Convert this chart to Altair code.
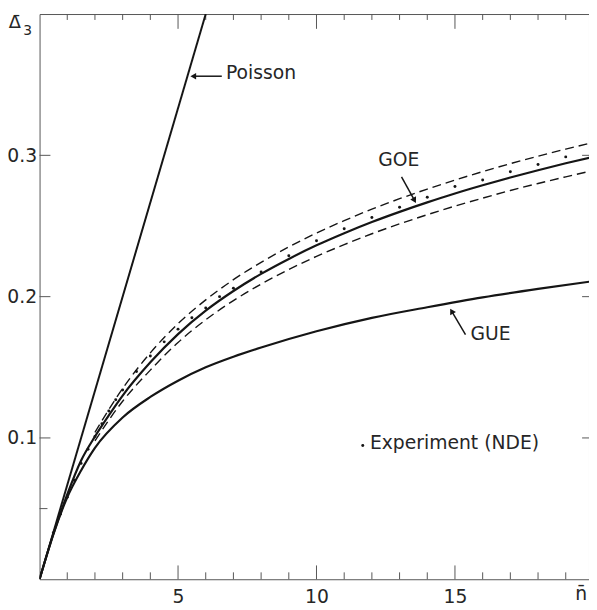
import altair as alt
import pandas as pd

FONT = "DejaVu Sans"
INK = "#151515"
TXT = "#262626"
AX = "#555555"

# ---------------- data ----------------
poisson_n = [0, 6.0]
poisson_d = [0, 0.4]

goe_n = [0, 0.5, 1, 1.5, 2, 2.5, 3, 4, 5, 6, 7, 8, 9, 10, 11, 12, 13, 14, 15, 16, 17, 18, 19, 20]
goe_d = [0, 0.032, 0.060, 0.084, 0.101, 0.116, 0.130, 0.1535, 0.1735, 0.1901, 0.2040, 0.2161,
         0.2267, 0.2363, 0.2449, 0.2528, 0.2600, 0.2667, 0.2730, 0.2788, 0.2843, 0.2895,
         0.2944, 0.2990]

goe_hi_n = [2, 3, 4, 5, 6, 7, 8, 9, 10, 11, 12, 13, 14, 15, 16, 17, 18, 19, 20]
goe_hi_d = [0.104, 0.135, 0.1602, 0.1809, 0.1977, 0.2120, 0.2243, 0.2352, 0.2450, 0.2538,
            0.2619, 0.2693, 0.2761, 0.2825, 0.2885, 0.2941, 0.2994, 0.3044, 0.3091]

goe_lo_n = [2, 3, 4, 5, 6, 7, 8, 9, 10, 11, 12, 13, 14, 15, 16, 17, 18, 19, 20]
goe_lo_d = [0.098, 0.126, 0.1480, 0.1676, 0.1836, 0.1972, 0.2089, 0.2192, 0.2285, 0.2368,
            0.2445, 0.2515, 0.2580, 0.2641, 0.2697, 0.2751, 0.2801, 0.2848, 0.2893]

gue_n = [0, 0.5, 1, 1.5, 2, 3, 4, 5, 6, 7, 8, 10, 12, 14, 16, 18, 20]
gue_d = [0, 0.032, 0.058, 0.077, 0.093, 0.1145, 0.129, 0.1405, 0.150, 0.1575, 0.164, 0.1755,
         0.185, 0.1925, 0.1995, 0.2055, 0.211]

exp_n = [0.5, 0.75, 1.0, 1.25, 1.5, 1.75, 2.0, 2.25, 2.5, 2.75, 3.0, 3.5, 4, 4.5, 5, 5.5, 6,
         6.5, 7, 8, 9, 10, 11, 12, 13, 14, 15, 16, 17, 18, 19]
exp_d = [0.033, 0.046, 0.058, 0.070, 0.082, 0.092, 0.101, 0.110, 0.119, 0.127, 0.134, 0.147,
         0.158, 0.168, 0.177, 0.185, 0.192, 0.200, 0.206, 0.2175, 0.229, 0.2395, 0.248,
         0.256, 0.2633, 0.2703, 0.278, 0.2826, 0.2884, 0.2935, 0.2989]

x_tick_labels = [5, 10, 15]
y_tick_labels = [0.1, 0.2, 0.3]
x_major_ticks = [5, 10, 15]
x_minor_ticks = [1, 2, 3, 4, 6, 7, 8, 9, 11, 12, 13, 14, 16, 17, 18, 19]
y_major_ticks = [0.1, 0.2, 0.3]
y_minor_ticks = [0.05]
y_right_ticks = [0.1, 0.2, 0.3]

# annotations (data coordinates)
labels_text = ["Poisson", "GOE", "GUE", "Experiment (NDE)"]
labels_n = [6.73, 12.97, 15.56, 11.93]
labels_d = [0.358, 0.2963, 0.1738, 0.0963]
labels_align = ["left", "center", "left", "left"]

arrow_n = [6.58, 13.07, 15.38]
arrow_d = [0.356, 0.2848, 0.1731]
arrow_n2 = [5.55, 13.54, 14.88]
arrow_d2 = [0.356, 0.2681, 0.1897]
arrow_angle = [270, 151, 330]

legend_dot_n = [11.67]
legend_dot_d = [0.0947]

# ---------------- chart ----------------
W, H = 557, 573
xs = alt.Scale(domain=[0, 19.84], nice=False, zero=False)
ys = alt.Scale(domain=[0, 0.4], nice=False, zero=False)

x_axis = alt.Axis(values=x_tick_labels, format="d", domain=False, ticks=False, grid=False,
                  labelFont=FONT, labelFontSize=19, labelColor=TXT, labelPadding=9,
                  labelFlush=False, title=None)
y_axis = alt.Axis(values=y_tick_labels, format=".1f", domain=False, ticks=False, grid=False,
                  labelFont=FONT, labelFontSize=19, labelColor=TXT, labelPadding=3,
                  title=None)

X = alt.X("n:Q", scale=xs, axis=x_axis)
Y = alt.Y("d:Q", scale=ys, axis=y_axis)


def df(n, d):
    return pd.DataFrame({"n": n, "d": d})


def curve(n, d, width=2.0, dash=None):
    kw = dict(color=INK, strokeWidth=width, interpolate="monotone", clip=True)
    if dash:
        kw["strokeDash"] = dash
    return alt.Chart(df(n, d)).mark_line(**kw).encode(x=X, y=Y)


def xticks(vals, length, top):
    d = pd.DataFrame({"n": vals})
    if top:
        enc = dict(y=alt.value(0), y2=alt.value(length))
    else:
        enc = dict(y=alt.value(H), y2=alt.value(H - length))
    return alt.Chart(d).mark_rule(color=AX, strokeWidth=1).encode(x=X, **enc)


def yticks(vals, length, right):
    d = pd.DataFrame({"d": vals})
    if right:
        enc = dict(x=alt.value(W - length), x2=alt.value(W))
    else:
        enc = dict(x=alt.value(0), x2=alt.value(length))
    return alt.Chart(d).mark_rule(color=AX, strokeWidth=1).encode(y=Y, **enc)


layers = [
    xticks(x_major_ticks, 14, False),
    xticks(x_minor_ticks, 7, False),
    xticks(x_major_ticks, 15, True),
    xticks(x_minor_ticks, 6, True),
    yticks(y_major_ticks, 11, False),
    yticks(y_minor_ticks, 8, False),
    yticks(y_right_ticks, 7, True),
    curve(poisson_n, poisson_d, 2.0),
    curve(goe_hi_n, goe_hi_d, 1.4, [9, 5]),
    curve(goe_lo_n, goe_lo_d, 1.4, [9, 5]),
    curve(goe_n, goe_d, 2.2),
    curve(gue_n, gue_d, 2.2),
    alt.Chart(df(exp_n, exp_d)).mark_circle(color=INK, size=9, opacity=1).encode(x=X, y=Y),
    alt.Chart(df(legend_dot_n, legend_dot_d)).mark_circle(color=INK, size=9, opacity=1)
    .encode(x=X, y=Y),
]

arrows = pd.DataFrame({"n": arrow_n, "d": arrow_d, "n2": arrow_n2, "d2": arrow_d2,
                       "angle": arrow_angle})
layers.append(alt.Chart(arrows).mark_rule(color=INK, strokeWidth=1.5).encode(
    x=X, y=Y, x2="n2:Q", y2="d2:Q"))
for i in range(len(arrow_n)):
    layers.append(
        alt.Chart(df([arrow_n2[i]], [arrow_d2[i]]))
        .mark_point(shape="triangle-up", filled=True, color=INK, size=45, opacity=1,
                    angle=arrow_angle[i])
        .encode(x=X, y=Y))

for i, t in enumerate(labels_text):
    layers.append(
        alt.Chart(pd.DataFrame({"n": [labels_n[i]], "d": [labels_d[i]], "t": [t]}))
        .mark_text(align=labels_align[i], baseline="middle", font=FONT, fontSize=19,
                   color=TXT)
        .encode(x=X, y=Y, text="t:N"))

# axis symbols
layers.append(alt.Chart(pd.DataFrame({"t": ["\u0394\u0304"]}))
              .mark_text(align="center", baseline="alphabetic", font=FONT, fontSize=18,
                         color=TXT)
              .encode(x=alt.value(-25), y=alt.value(14), text="t:N"))
layers.append(alt.Chart(pd.DataFrame({"t": ["3"]}))
              .mark_text(align="center", baseline="alphabetic", font=FONT, fontSize=14,
                         color=TXT)
              .encode(x=alt.value(-12), y=alt.value(21), text="t:N"))
layers.append(alt.Chart(pd.DataFrame({"t": ["n\u0304"]}))
              .mark_text(align="center", baseline="alphabetic", font=FONT, fontSize=19,
                         color=TXT)
              .encode(x=alt.value(549), y=alt.value(594), text="t:N"))

chart = (
    alt.layer(*layers)
    .properties(width=W, height=H, autosize=alt.AutoSizeParams(type="none"),
                padding={"left": 32, "top": 2, "right": 0, "bottom": 23},
                background="white")
    .configure_view(stroke=AX, strokeWidth=1)
)

chart.save("out.html", embed_options={"renderer": "svg", "actions": False})
